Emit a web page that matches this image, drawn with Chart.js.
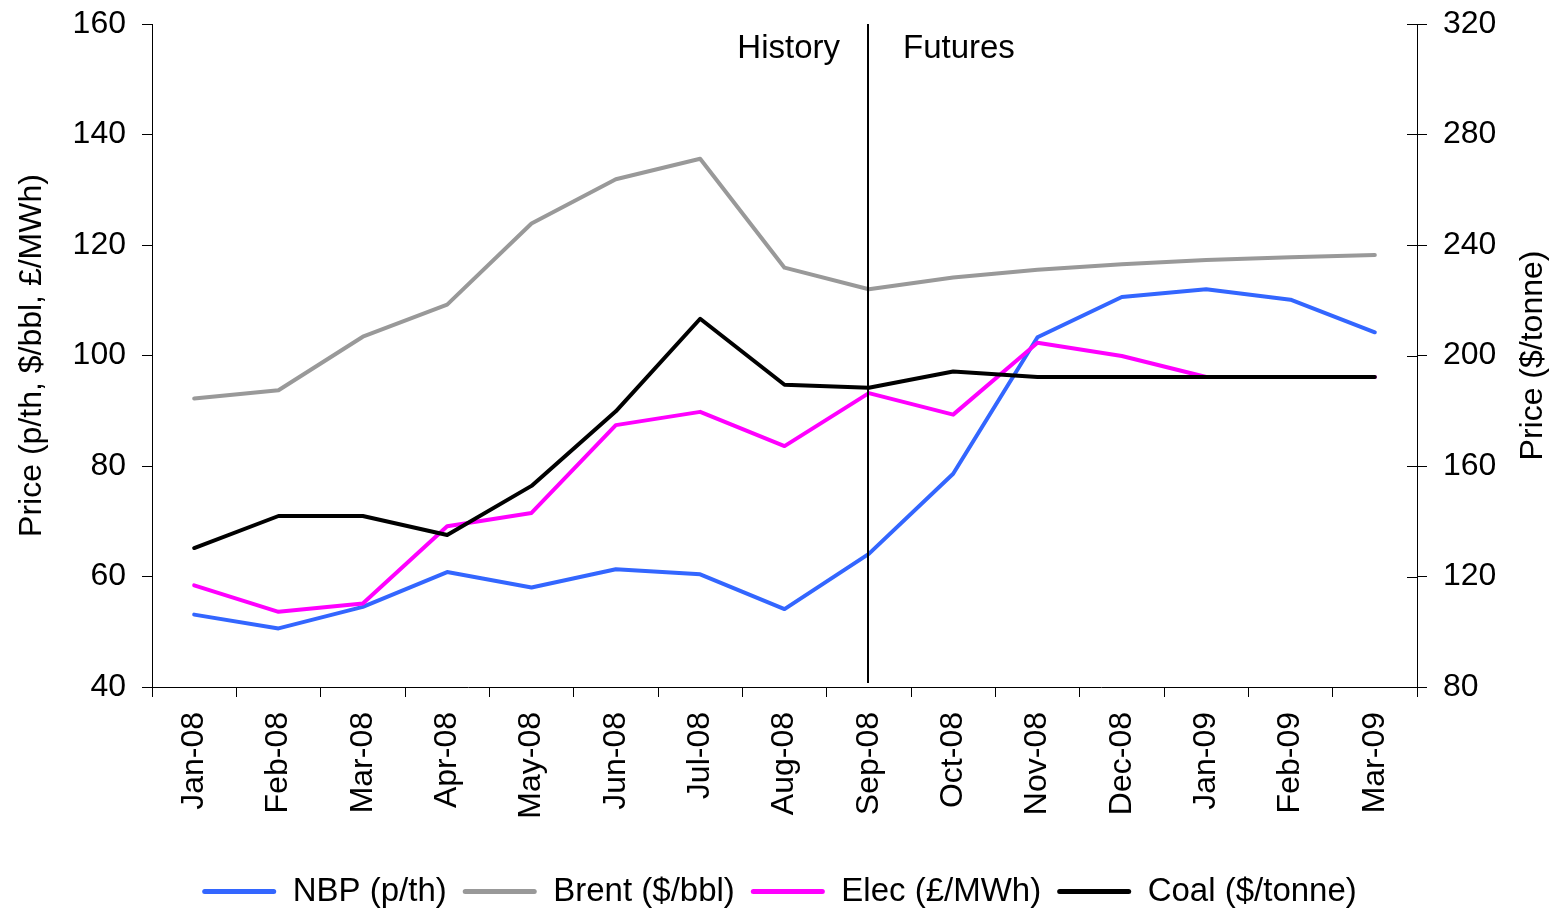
<!DOCTYPE html>
<html>
<head>
<meta charset="utf-8">
<title>Energy prices: history and futures</title>
<script src="https://cdn.jsdelivr.net/npm/chart.js@4.4.1/dist/chart.umd.min.js"></script>
<style>
  html, body { margin: 0; padding: 0; background: #ffffff; }
  #wrap { width: 1559px; height: 911px; }
</style>
</head>
<body>
<div id="wrap"><canvas id="chart" width="1559" height="911"></canvas></div>
<script>
// Monthly prices, Jan-08 .. Mar-09 (history up to Sep-08, futures after)
const months = ['Jan-08','Feb-08','Mar-08','Apr-08','May-08','Jun-08','Jul-08','Aug-08',
                'Sep-08','Oct-08','Nov-08','Dec-08','Jan-09','Feb-09','Mar-09'];
const nbp   = [53.1, 50.6, 54.5, 60.8, 58.0, 61.3, 60.4, 54.1, 64.1, 78.6, 103.3, 110.6, 112.0, 110.1, 104.2];
const brent = [92.2, 93.7, 103.4, 109.2, 123.9, 131.9, 135.6, 115.9, 112.0, 114.1, 115.5, 116.5, 117.3, 117.8, 118.2];
const elec  = [58.4, 53.6, 55.1, 69.1, 71.5, 87.4, 89.8, 83.6, 93.2, 89.3, 102.3, 99.9, 96.1, 96.1, 96.1];
const coal  = [130.3, 141.9, 141.9, 135.0, 152.8, 179.8, 213.3, 189.4, 188.3, 194.2, 192.2, 192.2, 192.2, 192.2, 192.2];

const leftTicks  = [40, 60, 80, 100, 120, 140, 160];
const rightTicks = [80, 120, 160, 200, 240, 280, 320];
const splitMonth = 'Sep-08';
const rightTitle = 'Price ($/tonne)';

const FONT = '"Liberation Sans", Arial, sans-serif';
const tickFont = { family: FONT, size: 32 };
const legendFont = { family: FONT, size: 33 };

// History / Futures divider with its two captions
const dividerPlugin = {
  id: 'divider',
  afterDatasetsDraw(chart) {
    const { ctx, chartArea, scales } = chart;
    const x = Math.round(scales.x.getPixelForValue(months.indexOf(splitMonth))) - 1;
    ctx.save();
    ctx.strokeStyle = '#000000';
    ctx.lineWidth = 2;
    ctx.beginPath();
    ctx.moveTo(x, chartArea.top);
    ctx.lineTo(x, chartArea.bottom - 4);
    ctx.stroke();
    ctx.fillStyle = '#000000';
    ctx.font = '33px ' + FONT;
    ctx.textBaseline = 'alphabetic';
    ctx.textAlign = 'right';
    ctx.fillText('History', x - 28, 58);
    ctx.textAlign = 'left';
    ctx.fillText('Futures', x + 35, 58);
    ctx.restore();
  }
};

// Secondary axis: tick marks crossing into the plot, and a title reading bottom-to-top
const rightAxisPlugin = {
  id: 'rightAxis',
  afterDraw(chart) {
    const { ctx, scales, chartArea } = chart;
    const s = scales.y1;
    ctx.save();
    ctx.strokeStyle = '#000000';
    ctx.lineWidth = 1;
    rightTicks.forEach(v => {
      const y = Math.round(s.getPixelForValue(v)) + 0.5;
      ctx.beginPath();
      ctx.moveTo(s.left - 10, y);
      ctx.lineTo(s.left, y);
      ctx.stroke();
    });
    ctx.translate(s.right - 26, (chartArea.top + chartArea.bottom) / 2);
    ctx.rotate(-Math.PI / 2);
    ctx.fillStyle = '#000000';
    ctx.font = '32px ' + FONT;
    ctx.textAlign = 'center';
    ctx.textBaseline = 'middle';
    ctx.fillText(rightTitle, 0, 0);
    ctx.restore();
  }
};

function series(label, data, color, axis, order) {
  return {
    label, data, yAxisID: axis, order,
    borderColor: color, backgroundColor: color,
    borderWidth: 4, pointRadius: 0, pointHoverRadius: 0,
    tension: 0, borderCapStyle: 'round', borderJoinStyle: 'round', fill: false
  };
}

// value axes keep their plot edges flush with the layout padding
function noOverflow(s) { s.paddingTop = 0; s.paddingBottom = 0; }

new Chart(document.getElementById('chart'), {
  type: 'line',
  data: {
    labels: months,
    datasets: [
      series('NBP (p/th)', nbp, '#3366FF', 'y', 4),
      series('Brent ($/bbl)', brent, '#999999', 'y', 3),
      series('Elec (£/MWh)', elec, '#FF00FF', 'y', 2),
      series('Coal ($/tonne)', coal, '#000000', 'y1', 1)
    ]
  },
  options: {
    responsive: false,
    animation: false,
    events: [],
    layout: { padding: { top: 24, bottom: -7, left: 0, right: 0 } },
    plugins: {
      tooltip: { enabled: false },
      legend: {
        position: 'bottom',
        labels: {
          color: '#000000',
          font: legendFont,
          boxWidth: 74,
          boxHeight: 5,
          padding: 16,
          generateLabels(chart) {
            return chart.data.datasets.map((ds, i) => ({
              text: ds.label,
              fillStyle: ds.borderColor,
              strokeStyle: ds.borderColor,
              lineWidth: 0,
              borderRadius: 2.5,
              fontColor: '#000000',
              datasetIndex: i,
              hidden: false
            }));
          },
          useBorderRadius: true,
          borderRadius: 2.5
        }
      }
    },
    scales: {
      x: {
        type: 'category',
        offset: true,
        grid: { display: true, drawOnChartArea: false, drawTicks: true, tickLength: 10, offset: true, color: '#000000' },
        border: { display: true, color: '#000000', width: 1 },
        ticks: { color: '#000000', font: tickFont, minRotation: 90, maxRotation: 90, padding: 15, autoSkip: false },
        afterFit(s) { s.height = 172; }
      },
      y: {
        position: 'left',
        min: 40, max: 160,
        afterBuildTicks(s) { s.ticks = leftTicks.map(v => ({ value: v })); },
        grid: { display: true, drawOnChartArea: false, drawTicks: true, tickLength: 10, color: '#000000' },
        border: { display: true, color: '#000000', width: 1 },
        ticks: { color: '#000000', font: tickFont, padding: 16 },
        title: { display: true, text: 'Price (p/th, $/bbl, £/MWh)', color: '#000000', font: tickFont, padding: { top: 13, bottom: 0 } },
        afterFit(s) { s.width = 152; noOverflow(s); }
      },
      y1: {
        position: 'right',
        min: 80, max: 320,
        afterBuildTicks(s) { s.ticks = rightTicks.map(v => ({ value: v })); },
        grid: { display: true, drawOnChartArea: false, drawTicks: true, tickLength: 10, color: '#000000' },
        border: { display: true, color: '#000000', width: 1 },
        ticks: { color: '#000000', font: tickFont, padding: 16 },
        afterFit(s) { s.width = 142; noOverflow(s); }
      }
    }
  },
  plugins: [dividerPlugin, rightAxisPlugin]
});
</script>
</body>
</html>
